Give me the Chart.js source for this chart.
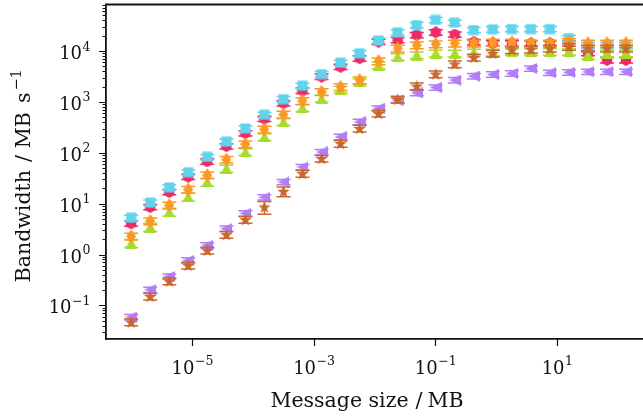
<!DOCTYPE html>
<html>
<head>
<meta charset="utf-8">
<script src="https://cdn.jsdelivr.net/npm/chart.js@4.4.1/dist/chart.umd.min.js"></script>
<style>
    html, body { margin: 0; padding: 0; background: #fff; overflow: hidden; }
    #wrap { width: 643px; height: 417px; }
</style>
</head>
<body>
<div id="wrap"><canvas id="chart"></canvas></div>
<script>
// Message sizes in MB, one per measurement.
var sizes = [9.9e-7, 2.04e-6, 4.2e-6, 8.6e-6, 1.77e-5, 3.65e-5, 7.5e-5, 1.54e-4, 3.17e-4,
    6.5e-4, 1.34e-3, 2.75e-3, 5.66e-3, 1.16e-2, 2.39e-2, 4.92e-2, 0.101, 0.208, 0.428,
    0.879, 1.81, 3.72, 7.64, 15.7, 32.3, 66.4, 136];

// Measured bandwidth (MB/s) for every run.
var cyanBw = [5.3, 10.5, 21, 41.5, 83, 167, 301, 562, 1135, 2090, 3530, 5890, 9010, 16100,
    23300, 32500, 40800, 36100, 25900, 26700, 27100, 27100, 27100, 18000, 13100, 13100, 13100];
var pinkBw = [4.1, 8.6, 17, 33.9, 68, 135, 243, 469, 947, 1670, 3150, 4910, 7180, 15200,
    16500, 20700, 23300, 21100, 15000, 14200, 14200, 14200, 14200, 14200, 9140, 6650, 6650];
var orangeBw = [2.28, 4.56, 9.3, 19, 36.3, 73.8, 148, 288, 568, 1050, 1580, 1980, 2690, 6350,
    11300, 13100, 13700, 14200, 14200, 14800, 14800, 14200, 14200, 15200, 14200, 14200, 14200];
var greenBw = [1.68, 3.48, 6.87, 13.6, 26.7, 49.1, 104, 206, 406, 765, 1170, 1760, 2490, 5300,
    7720, 8340, 9010, 9010, 9420, 9420, 9690, 9690, 9690, 9690, 8340, 9010, 9010];
var purpleBw = [0.059, 0.204, 0.372, 0.769, 1.52, 3.24, 6.47, 13.4, 26.7, 52.7, 104, 206, 406,
    745, 1080, 1510, 1930, 2690, 3220, 3480, 3640, 4560, 3740, 3810, 3910, 3910, 3910];
var brownBw = [0.047, 0.150, 0.301, 0.612, 1.21, 2.47, 4.87, 8.61, 17.5, 39.1, 77.3, 152, 301,
    594, 1120, 2050, 3530, 5550, 7510, 9010, 10500, 10800, 11300, 12200, 11300, 11300, 11300];

// Relative errors (half-width of the error bar) for each run.
var cyanErr = [0.12, 0.12, 0.12, 0.12, 0.12, 0.12, 0.12, 0.12, 0.12, 0.12, 0.12, 0.12, 0.12, 0.12,
    0.12, 0.12, 0.12, 0.12, 0.12, 0.12, 0.12, 0.12, 0.12, 0.12, 0.12, 0.12, 0.12];
var pinkErr = [0.12, 0.12, 0.12, 0.12, 0.12, 0.12, 0.12, 0.12, 0.12, 0.12, 0.12, 0.12, 0.12, 0.12,
    0.12, 0.12, 0.12, 0.12, 0.12, 0.12, 0.12, 0.12, 0.12, 0.12, 0.12, 0.12, 0.12];
var orangeErr = [0.15, 0.15, 0.15, 0.15, 0.15, 0.15, 0.15, 0.15, 0.15, 0.15, 0.15, 0.15, 0.15, 0.15,
    0.15, 0.15, 0.15, 0.15, 0.15, 0.15, 0.15, 0.15, 0.15, 0.15, 0.15, 0.15, 0.15];
var greenErr = [0.18, 0.18, 0.18, 0.18, 0.18, 0.16, 0.15, 0.15, 0.15, 0.15, 0.15, 0.15, 0.15, 0.15,
    0.15, 0.15, 0.15, 0.15, 0.15, 0.15, 0.15, 0.15, 0.15, 0.15, 0.15, 0.15, 0.15];
var purpleErr = [0.12, 0.12, 0.12, 0.12, 0.12, 0.12, 0.12, 0.12, 0.12, 0.12, 0.12, 0.12, 0.12, 0.12,
    0.12, 0.12, 0.12, 0.12, 0.12, 0.12, 0.12, 0.12, 0.12, 0.12, 0.12, 0.12, 0.12];
var brownErr = [0.15, 0.15, 0.15, 0.15, 0.15, 0.15, 0.15, 0.28, 0.22, 0.15, 0.15, 0.15, 0.15, 0.15,
    0.15, 0.15, 0.15, 0.15, 0.15, 0.15, 0.15, 0.15, 0.15, 0.15, 0.15, 0.15, 0.15];

// Axis ticks.
var xTicks = [1e-5, 1e-3, 1e-1, 1e1];
var yTicks = [1e-1, 1e0, 1e1, 1e2, 1e3, 1e4];

(function () {

    var FONT = '"DejaVu Serif", "Liberation Serif", serif';
    var INK = '#111';

    /**
     * Draws "10" with a raised, smaller exponent. Align is 'right' or 'center'.
     */
    function drawPower(ctx, value, x, baseline, align)
    {
        var exp = String(Math.round(Math.log10(value))).replace('-', '\u2212'),
            baseW, expW, start;

        ctx.font = '18px ' + FONT;
        baseW = ctx.measureText('10').width;
        ctx.font = '12.5px ' + FONT;
        expW = ctx.measureText(exp).width;

        start = align === 'right' ? x - baseW - expW : x - (baseW + expW) / 2;
        ctx.textAlign = 'left';
        ctx.textBaseline = 'alphabetic';
        ctx.font = '18px ' + FONT;
        ctx.fillText('10', start, baseline);
        ctx.font = '12.5px ' + FONT;
        ctx.fillText(exp, start + baseW + 0.5, baseline - 8.5);
    }

    /**
     * Draws a run of text pieces one after the other; each piece is
     * [text, font size, raise, gap before].
     */
    function drawRun(ctx, parts, centre, baseline)
    {
        var total = 0, pos;

        parts.forEach(function (p) {
            ctx.font = p[1] + 'px ' + FONT;
            p.width = ctx.measureText(p[0]).width;
            total += p[3] + p.width;
        });
        pos = centre - total / 2;
        ctx.textAlign = 'left';
        ctx.textBaseline = 'alphabetic';
        parts.forEach(function (p) {
            pos += p[3];
            ctx.font = p[1] + 'px ' + FONT;
            ctx.fillText(p[0], pos, baseline - p[2]);
            pos += p.width;
        });
    }

    /**
     * Builds a small canvas with a filled marker, used as the point style.
     */
    function marker(w, h, color, path)
    {
        var c = document.createElement('canvas'), g;
        c.width = w;
        c.height = h;
        g = c.getContext('2d');
        g.fillStyle = color;
        g.beginPath();
        path(g, w, h);
        g.closePath();
        g.fill();
        return c;
    }

    function square(g, w, h) { g.rect(0.5, 0.5, w - 1, h - 1); }

    function hexagon(g, w, h)
    {
        var i, a, r = w / 2;
        for (i = 0; i < 6; i++) {
            a = -Math.PI / 2 + i * Math.PI / 3;
            g.lineTo(w / 2 + r * Math.cos(a), h / 2 + r * Math.sin(a));
        }
    }

    function thinDiamond(g, w, h)
    {
        g.moveTo(w / 2, 0);
        g.lineTo(w, h / 2);
        g.lineTo(w / 2, h);
        g.lineTo(0, h / 2);
    }

    function triangleUp(g, w, h)
    {
        g.moveTo(w / 2, 0);
        g.lineTo(w, h);
        g.lineTo(0, h);
    }

    function triangleLeft(g, w, h)
    {
        g.moveTo(0, h / 2);
        g.lineTo(w, 0);
        g.lineTo(w, h);
    }

    function star(g, w, h)
    {
        var i, a, r;
        for (i = 0; i < 10; i++) {
            a = -Math.PI / 2 + i * Math.PI / 5;
            r = i % 2 ? w * 0.21 : w / 2;
            g.lineTo(w / 2 + r * Math.cos(a), h / 2 + 0.5 + r * Math.sin(a));
        }
    }

    /**
     * Zips the sizes with one series into scatter points.
     */
    function points(values)
    {
        return values.map(function (v, i) { return { x: sizes[i], y: v }; });
    }

    function series(values, errors, color, style, order)
    {
        return {
            data: points(values),
            errors: errors,
            borderColor: color,
            backgroundColor: color,
            pointStyle: style,
            order: order
        };
    }

    // Error bars with caps, drawn right under the markers of their own series.
    var errorBars = {
        id: 'errorBars',
        beforeDatasetDraw: function (chart, args) {
            var ds = chart.data.datasets[args.index], ctx = chart.ctx,
                xs = chart.scales.x, ys = chart.scales.y;

            ctx.save();
            ctx.strokeStyle = ds.borderColor;
            ctx.lineWidth = 1.5;
            ctx.beginPath();
            ds.data.forEach(function (p, i) {
                var px = xs.getPixelForValue(p.x),
                    lo = ys.getPixelForValue(p.y * (1 - ds.errors[i])),
                    hi = ys.getPixelForValue(p.y * (1 + ds.errors[i]));
                ctx.moveTo(px, lo);
                ctx.lineTo(px, hi);
                ctx.moveTo(px - 7, lo);
                ctx.lineTo(px + 7, lo);
                ctx.moveTo(px - 7, hi);
                ctx.lineTo(px + 7, hi);
            });
            ctx.stroke();
            ctx.restore();
        }
    };

    // Top frame line, outward tick marks (major and minor on y) and all axis text.
    var frame = {
        id: 'frame',
        afterDraw: function (chart) {
            var ctx = chart.ctx, area = chart.chartArea,
                xs = chart.scales.x, ys = chart.scales.y, e, m, v, p, len;

            ctx.save();
            ctx.strokeStyle = INK;
            ctx.lineWidth = 1.8;
            ctx.beginPath();
            ctx.moveTo(area.left - 1, area.top);
            ctx.lineTo(chart.width, area.top);
            ctx.stroke();

            ctx.lineWidth = 1.2;
            ctx.beginPath();
            for (e = -2; e <= 4; e++) {
                for (m = 1; m < 10; m++) {
                    v = m * Math.pow(10, e);
                    if (v < ys.min || v > ys.max) {
                        continue;
                    }
                    p = Math.round(ys.getPixelForValue(v)) + 0.5;
                    len = m === 1 ? 7 : 3.5;
                    ctx.moveTo(area.left - len, p);
                    ctx.lineTo(area.left, p);
                }
            }
            xTicks.forEach(function (t) {
                p = Math.round(xs.getPixelForValue(t)) + 0.5;
                ctx.moveTo(p, area.bottom);
                ctx.lineTo(p, area.bottom + 7);
            });
            ctx.stroke();

            // Tick labels.
            ctx.fillStyle = INK;
            yTicks.forEach(function (t) {
                drawPower(ctx, t, area.left - 16, ys.getPixelForValue(t) + 8, 'right');
            });
            xTicks.forEach(function (t) {
                drawPower(ctx, t, xs.getPixelForValue(t), area.bottom + 34.5, 'center');
            });

            // Axis titles.
            drawRun(ctx, [['Message size', 20.5, 0, 0], ['/', 20.5, 0, 7], ['MB', 20.5, 0, 5]],
                area.left + 261, area.bottom + 68);

            ctx.translate(30, (area.top + area.bottom) / 2 + 4);
            ctx.rotate(-Math.PI / 2);
            drawRun(ctx, [['Bandwidth', 20.5, 0, 0], ['/', 20.5, 0, 8], ['MB', 20.5, 0, 7],
                ['s', 20.5, 0, 9], ['\u22121', 14.5, 9, 2]], 0, 0);
            ctx.restore();
        }
    };

    new Chart(document.getElementById('chart'), {
        type: 'scatter',
        data: {
            datasets: [
                series(pinkBw, pinkErr, '#ee2a6b', marker(12, 12, '#ee2a6b', hexagon), 6),
                series(cyanBw, cyanErr, '#5fd4ec', marker(11, 11, '#5fd4ec', square), 5),
                series(greenBw, greenErr, '#a6dc2e', marker(12, 11, '#a6dc2e', triangleUp), 4),
                series(orangeBw, orangeErr, '#fc9824', marker(10, 14, '#fc9824', thinDiamond), 3),
                series(purpleBw, purpleErr, '#b27ef7', marker(12, 11, '#b27ef7', triangleLeft), 2),
                series(brownBw, brownErr, '#c9672f', marker(13, 13, '#c9672f', star), 1)
            ]
        },
        options: {
            responsive: true,
            maintainAspectRatio: false,
            animation: false,
            events: [],
            layout: {
                autoPadding: false,
                padding: { top: 4.5, right: 0, left: 0, bottom: 0 }
            },
            plugins: {
                legend: { display: false },
                tooltip: { enabled: false }
            },
            elements: { point: { radius: 6 } },
            scales: {
                x: {
                    type: 'logarithmic',
                    min: 3.82e-7,
                    max: 259,
                    afterBuildTicks: function (scale) {
                        scale.ticks = xTicks.map(function (v) { return { value: v }; });
                    },
                    afterFit: function (scale) { scale.height = 78; },
                    grid: { display: false, drawTicks: false },
                    border: { display: true, color: INK, width: 1.8 },
                    ticks: { display: false }
                },
                y: {
                    type: 'logarithmic',
                    min: 0.0219,
                    max: 82200,
                    afterBuildTicks: function (scale) {
                        scale.ticks = yTicks.map(function (v) { return { value: v }; });
                    },
                    afterFit: function (scale) { scale.width = 106; },
                    grid: { display: false, drawTicks: false },
                    border: { display: true, color: INK, width: 1.8 },
                    ticks: { display: false }
                }
            }
        },
        plugins: [errorBars, frame]
    });

})();
</script>
</body>
</html>
